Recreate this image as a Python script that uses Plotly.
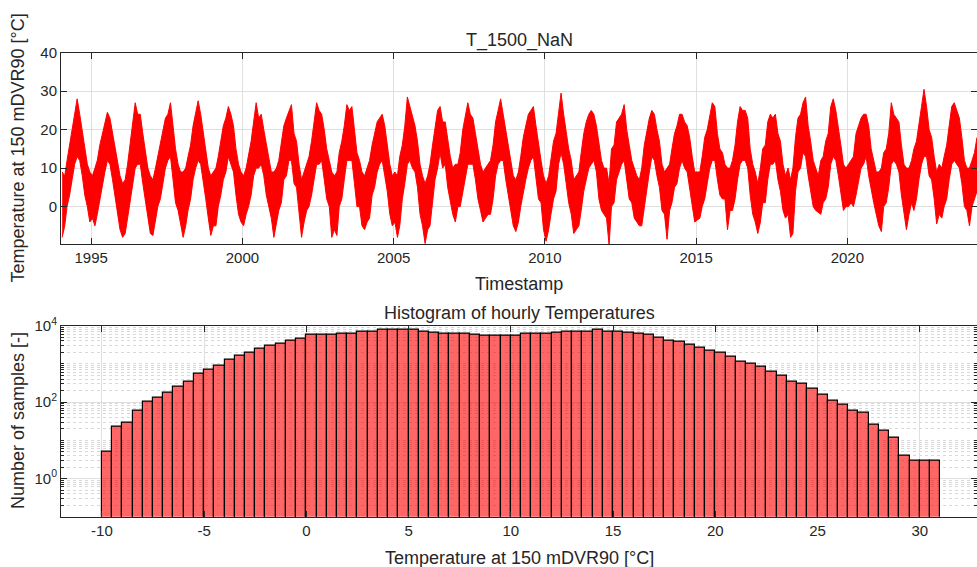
import numpy as np
import pandas as pd
import plotly.graph_objects as go

# ---------------- time series (monthly envelope) ----------------
years = list(range(1994, 2025))
hi_by_year = [
    [9, 8, 12, 16, 20, 24, 28, 24, 20, 16, 11, 9],
    [8, 10, 12, 16, 19, 22, 24.5, 23, 19, 15, 11, 8],
    [6, 7, 11, 16, 21, 27, 24, 24, 19, 15, 10, 8],
    [7, 10, 13, 16, 20, 23, 24, 27, 21, 15, 11, 9],
    [9, 10, 13, 16, 21, 24, 27.5, 24, 19, 15, 10, 8],
    [9, 10, 13, 17, 21, 23, 26, 24, 21, 15, 11, 9],
    [8, 10, 13, 17, 22, 27, 23, 24, 20, 16, 12, 9],
    [9, 10, 12, 16, 21, 23, 25, 26.5, 19, 17, 11, 7],
    [9, 11, 13, 17, 22, 27, 25, 24, 20, 15, 12, 9],
    [8, 9, 14, 17, 21, 26.5, 25, 26, 20, 14, 12, 9],
    [8, 10, 12, 16, 19, 22, 23, 24, 21, 16, 11, 8],
    [9, 8, 13, 16, 21, 28.5, 26, 23, 21, 17, 11, 8],
    [6, 8, 11, 16, 21, 25, 26, 22, 22, 17, 13, 10],
    [11, 11, 14, 20, 23, 27, 24, 23, 19, 15, 11, 9],
    [10, 11, 12, 16, 22, 25, 28, 24, 20, 16, 12, 8],
    [7, 9, 13, 18, 21, 24, 25, 26, 21, 16, 12, 8],
    [6, 8, 13, 17, 19, 25, 29.5, 24, 19, 15, 12, 7],
    [8, 9, 14, 19, 22, 24, 25, 24, 21, 16, 12, 10],
    [10, 6, 15, 16, 22, 23, 24, 26.5, 20, 16, 12, 10],
    [8, 7, 10, 16, 19, 23, 25, 24, 20, 17, 11, 9],
    [10, 11, 15, 19, 21, 24, 24, 22, 21, 18, 13, 9],
    [9, 9, 13, 18, 20, 24, 27, 26, 19, 15, 14, 11],
    [10, 10, 12, 16, 22, 26, 25, 25, 23, 15, 11, 9],
    [6, 10, 15, 16, 22, 24, 23, 24, 19, 17, 11, 8],
    [10, 7, 10, 18, 23, 24, 27, 28.5, 21, 17, 12, 10],
    [8, 12, 13, 17, 19, 26, 28, 25, 21, 16, 11, 10],
    [11, 12, 13, 19, 21, 23, 24, 24, 21, 15, 12, 9],
    [9, 10, 14, 15, 19, 27, 24, 23, 22, 16, 11, 10],
    [10, 12, 15, 17, 22, 26, 30.5, 26, 20, 18, 13, 9],
    [11, 10, 13, 16, 21, 26, 27, 25, 23, 18, 12, 10],
    [10, 12, 14, 18],
]
lo_by_year = [
    [-8, -5, 0, 3, 7, 11, 13, 12, 8, 3, 0, -4],
    [-3, -5, -2, 2, 6, 9, 12, 11, 7, 3, -2, -6],
    [-8, -7, -3, 1, 6, 10, 11, 11, 6, 2, -2, -7],
    [-7.5, -3, 0, 2, 6, 10, 12, 13, 7, 1, -1, -4],
    [-8, -5, -1, 2, 7, 10, 12, 11, 7, 2, -3, -7.5],
    [-5, -5, 0, 3, 7, 9, 13, 11, 9, 3, -2, -4],
    [-5, -2, 0, 3, 8, 10, 10, 11, 8, 3, 0, -3],
    [-8, -4, -1, 1, 7, 8, 12, 12, 6, 5, -2, -8],
    [-4, -1, 0, 3, 7, 11, 11, 12, 7, 2, 0, -8],
    [-6, -7.5, 0, 2, 7, 12, 12, 12, 6, 0, 0, -5],
    [-6, -4, -3, 3, 5, 9, 11, 12, 8, 4, -2, -5],
    [-4, -8, -5, 2, 6, 11, 12, 10, 9, 5, -2, -5],
    [-9.6, -6, -5, 2, 7, 10, 14, 10, 11, 5, 1, -2],
    [-4, 0, 0, 4, 8, 11, 11, 11, 7, 2, -1, -4],
    [-3, -2, -2, 2, 8, 11, 12, 12, 7, 3, -1, -5],
    [-6.5, -4, 0, 4, 7, 10, 12, 13, 8, 2, 1, -6],
    [-9, -6, -2, 2, 4, 11, 14, 11, 6, 1, -2, -7],
    [-6, -5, -1, 4, 7, 10, 11, 12, 9, 2, -1, -2],
    [-3, -10, 0, 1, 7, 9, 11, 12, 7, 2, 1, -3],
    [-4, -5, -5, 0, 5, 9, 13, 12, 8, 5, -1, -2],
    [-8.5, -1, 1, 5, 6, 10, 12, 10, 9, 5, 1, -4],
    [-3.5, -3, 0, 2, 6, 10, 12, 12, 7, 3, 2, 2],
    [-6, -1, -1, 2, 7, 11, 12, 12, 10, 3, -2, -4],
    [-7, -4, 1, 1, 7, 11, 11, 12, 7, 4, -1, -3],
    [-2, -8, -7, 4, 9, 10, 14, 13, 8, 4, 0, -1],
    [-1.5, -2, 1, 2, 5, 11, 13, 12, 8, 4, -1, 0],
    [0, 1, 0, 3, 6, 10, 11, 13, 8, 4, 1, -2],
    [-5, -6.5, 0, 1, 5, 11, 12, 11, 9, 3, -1, -6],
    [-2, 1, -1, 2, 7, 11, 13, 13, 8, 7, 2, -4.5],
    [-2, -3, 0, 2, 7, 11, 12, 11, 10, 6, 0, -1],
    [-5, 0, 2, 4],
]

# ---------------- histogram (0.5 degC bins, counts) ----------------
bin_left_edges = np.arange(-10, 31, 0.5)
bin_width = 0.5
counts = [
    5, 23, 29, 61, 100, 127, 179, 246, 347, 560,
    726, 924, 1260, 1650, 1940, 2460, 2950, 3460, 4060, 4600,
    5710, 5710, 5940, 6060, 6060, 6970, 7110, 7710, 7710, 7870,
    7870, 7110, 6440, 6060, 6060, 6060, 5710, 5600, 5600, 5600,
    5600, 6060, 6060, 6060, 6570, 7110, 7110, 7110, 7870, 7110,
    7110, 6570, 6060, 5710, 4860, 4060, 3750, 3190, 2720, 2270,
    1940, 1520, 1170, 1000, 851, 607, 477, 347, 295, 228,
    152, 108, 85, 61, 52, 25, 18, 12, 4, 3,
    3, 3,
]

year_ticks = [1995, 2000, 2005, 2010, 2015, 2020]
temp_ticks = [-10, -5, 0, 5, 10, 15, 20, 25, 30]
temp_tick_text = ["-10", "-5", "0", "5", "10", "15", "20", "25", "30"]
top_y_ticks = [0, 10, 20, 30, 40]
count_ticks = [1, 100, 10000]
count_tick_text = ["10<sup>0</sup>", "10<sup>2</sup>", "10<sup>4</sup>"]

# ---------------- build ----------------
hi = [v for row in hi_by_year for v in row]
lo = [v for row in lo_by_year for v in row]
dates = pd.date_range("1994-01-01", periods=len(hi), freq="MS") + pd.Timedelta(days=14)

FONT = "Liberation Sans, Arial, sans-serif"
TXT = "#262626"
GRID = "#dfdfdf"
W, H = 977, 567

def py(px):  # pixel (from top) -> paper fraction
    return 1 - px / H

def pxx(px):
    return px / W

fig = go.Figure()

fig.add_trace(go.Scatter(x=dates, y=lo, mode="lines", line=dict(color="#ff0000", width=1),
                         xaxis="x", yaxis="y", showlegend=False, hoverinfo="skip"))
fig.add_trace(go.Scatter(x=dates, y=hi, mode="lines", line=dict(color="#ff0000", width=1),
                         fill="tonexty", fillcolor="#ff0000",
                         xaxis="x", yaxis="y", showlegend=False))

centers = bin_left_edges + bin_width / 2
fig.add_trace(go.Bar(x=centers, y=counts, width=bin_width,
                     marker=dict(color="rgba(255,0,0,0.6)", line=dict(color="black", width=1.2)),
                     xaxis="x2", yaxis="y2", showlegend=False))

axcommon = dict(showline=True, linecolor=TXT, linewidth=1, mirror="ticks", ticks="inside",
                ticklen=6, tickcolor=TXT, tickfont=dict(family=FONT, size=15, color=TXT),
                showgrid=True, gridcolor=GRID, gridwidth=1, zeroline=False, automargin=False)

x_left, x_right = pxx(61), 1.0
fig.update_layout(
    width=W, height=H, margin=dict(l=0, r=0, t=0, b=0, pad=0, autoexpand=False),
    paper_bgcolor="white", plot_bgcolor="white",
    bargap=0,
    xaxis=dict(domain=[x_left, x_right], anchor="y", type="date",
               range=["1994-01-01", "2024-04-15"],
               tickvals=[f"{y}-01-01" for y in year_ticks], ticktext=[str(y) for y in year_ticks],
               **axcommon),
    yaxis=dict(domain=[py(244.3), py(52.7)], anchor="x", range=[-9.8, 40],
               tickvals=top_y_ticks, ticktext=[str(v) for v in top_y_ticks], **axcommon),
    xaxis2=dict(domain=[x_left, x_right], anchor="y2", range=[-12, 32.8],
                tickvals=temp_ticks, ticktext=temp_tick_text, **axcommon),
    yaxis2=dict(domain=[py(516.7), py(325.7)], anchor="x2", type="log", range=[-1, 4],
                tickvals=count_ticks, ticktext=count_tick_text,
                minor=dict(dtick="D1", showgrid=True, gridcolor="#d8d8d8", griddash="dot",
                           ticks="inside", ticklen=3, tickcolor=TXT),
                **axcommon),
)

def ann(text, x, y, size=18, angle=0):
    fig.add_annotation(text=text, x=x, y=y, xref="paper", yref="paper", showarrow=False,
                       font=dict(family=FONT, size=size, color=TXT), textangle=angle,
                       xanchor="center", yanchor="middle")

ann("T_1500_NaN", pxx(519), py(40))
ann("Timestamp", pxx(519), py(284))
ann("Temperature at 150 mDVR90 [°C]", pxx(18), py(148.5), angle=-90)
ann("Histogram of hourly Temperatures", pxx(519), py(313))
ann("Temperature at 150 mDVR90 [°C]", pxx(519), py(558))
ann("Number of samples [-]", pxx(18), py(421), angle=-90)

fig.write_html("out.html")
